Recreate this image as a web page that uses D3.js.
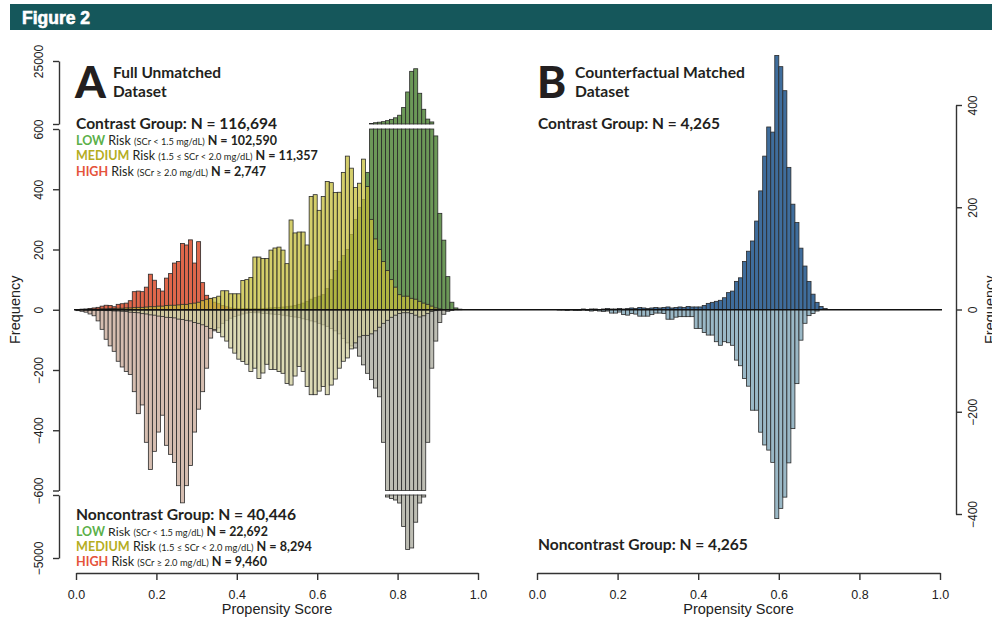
<!DOCTYPE html>
<html>
<head>
<meta charset="utf-8">
<script src="https://cdn.jsdelivr.net/npm/d3@7"></script>
<style>
  body { margin: 0; background: #fff; }
  svg { display: block; font-family: "Liberation Sans", Arial, Helvetica, sans-serif; }
  .lab { font-family: Lato, "Open Sans", sans-serif; fill: #231f20; }
</style>
</head>
<body>
<svg id="chart" width="992" height="621"></svg>
<script>
// ---------- data: frequencies per propensity-score bin of width 0.01 (bins 0.00-0.01 ... 0.99-1.00) ----------
const contrastLow = [
  1,2,2,3,2,3,2,2,3,2,  2,2,3,2,2,3,2,2,3,3,  3,2,3,3,2,3,3,2,3,3,  3,3,2,3,3,3,3,4,3,4,
  3,4,4,3,4,3,4,5,6,7,  8,9,10,12,14,18,22,28,35,40,  45,50,70,100,130,160,180,200,250,300,
  340,366,456,800,1100,1300,1500,1900,2400,3000,  4000,7000,13000,21000,22000,12500,6300,2500,1400,577,
  320,231,110,25,6,2,0,0,0,0
];
const contrastMedium = [
  0,0,1,1,2,2,3,3,4,4,  5,5,6,6,7,8,8,9,10,10,  12,12,14,15,15,16,18,18,20,22,  25,30,35,38,40,45,63,63,53,53,
  53,97,100,107,175,175,170,170,198,205,  208,198,153,298,255,258,258,215,376,382,  330,376,426,422,389,390,456,510,470,406,
  420,500,409,300,235,200,160,130,100,75,  50,45,45,38,35,28,22,18,12,6,
  3,1,0,0,0,0,0,0,0,0
];
const contrastHigh = [
  0,1,2,4,6,8,12,15,14,10,  18,20,22,30,60,62,60,75,118,98,  70,62,105,120,155,160,220,215,232,155,  226,90,48,37,25,20,14,10,6,4,
  2,1,1,0,0,0,0,0,0,0,  0,0,0,0,0,0,0,0,0,0,  0,0,0,0,0,0,0,0,0,0,
  0,0,0,0,0,0,0,0,0,0,  0,0,0,0,0,0,0,0,0,0,  0,0,0,0,0,0,0,0,0,0
];
const noncontrastLow = [
  2,3,4,4,5,4,4,3,3,3,  3,2,3,3,2,3,3,2,3,3,  3,3,4,3,4,4,3,4,4,5,  5,4,5,5,6,5,6,6,7,7,
  8,8,9,9,10,10,12,12,14,15,  16,18,20,22,24,26,30,33,37,40,  45,50,55,62,70,80,95,110,120,127,
  154,183,211,232,260,289,440,740,850,950,  1160,2800,4400,4300,2500,1160,740,440,194,104,
  42,15,5,2,0,0,0,0,0,0
];
const noncontrastMedium = [
  0,0,1,1,1,2,2,3,3,4,  4,5,6,8,9,10,13,14,17,18,  21,22,25,26,27,31,32,35,37,42,  45,50,55,62,66,75,90,104,127,144,
  164,172,181,205,194,228,210,181,198,198,  205,211,245,250,220,188,205,255,282,282,  270,255,282,250,230,194,171,160,130,110,
  90,85,85,80,70,58,45,35,25,18,  12,10,10,12,18,24,20,12,6,3,
  1,0,0,0,0,0,0,0,0,0
];
const noncontrastHigh = [
  3,5,8,14,20,37,65,98,120,138,  171,190,205,215,272,345,316,440,530,470,  406,350,450,480,507,584,641,584,517,406,
  330,272,194,94,70,60,45,35,28,22,  18,14,11,9,7,5,4,3,2,2,  1,0,0,0,0,0,0,0,0,0,
  0,0,0,0,0,0,0,0,0,0,  0,0,0,0,0,0,0,0,0,0,  0,0,0,0,0,0,0,0,0,0,  0,0,0,0,0,0,0,0,0,0
];
const matchedContrast = [
  0,0,0,0,0,0,0,0,0,0,  0,1,0,1,1,0,1,2,1,1,  2,1,2,3,2,4,3,2,3,4,  3,4,5,3,4,5,4,6,5,5,
  5,8,12,14,16,18,23,33,36,55,  62,94,114,134,173,232,300,357,347,497,  475,428,278,206,170,120,85,55,30,14,
  6,2,0,0,0,0,0,0,0,0,  0,0,0,0,0,0,0,0,0,0,  0,0,0,0,0,0,0,0,0,0
];
const matchedNoncontrast = [
  0,0,0,0,0,1,1,2,1,2,  2,1,2,3,2,3,4,3,7,7,  5,10,11,8,9,13,13,13,10,7,  7,8,19,19,15,14,14,14,14,37,
  37,45,50,50,63,70,63,65,70,99,  110,135,150,197,197,240,265,275,299,409,  389,367,300,233,145,60,27,12,8,3,
  0,0,0,0,0,0,0,0,0,0,  0,0,0,0,0,0,0,0,0,0,  0,0,0,0,0,0,0,0,0,0
];

// ---------- labels ----------
const xTickValues = [0, 0.2, 0.4, 0.6, 0.8, 1.0];
const yTicksMiddleA = [600, 400, 200, 0, -200, -400, -600];
const yTicksTopA = [600, 25000];
const yTicksBottomA = [-600, -5000];
const yTicksB = [400, 200, 0, -200, -400];
const riskLevels = ["LOW", "MEDIUM", "HIGH"];
const riskColors = ["#5bb04a", "#b5ad1f", "#e5533b"];
const riskRanges = ["(SCr < 1.5 mg/dL)", "(1.5 \u2264 SCr < 2.0 mg/dL)", "(SCr \u2265 2.0 mg/dL)"];
const contrastN = [102590, 11357, 2747];
const noncontrastN = [22692, 8294, 9460];
const groupTotalsA = [116694, 40446];
const groupTotalsB = [4265, 4265];

const fmt = d3.format(",");
const svg = d3.select("#chart");
svg.append("rect").attr("width", 992).attr("height", 621).attr("fill", "#fff");

// ---------- header band ----------
svg.append("rect").attr("x", 10).attr("y", 4).attr("width", 982).attr("height", 26).attr("fill", "#15575b");
svg.append("text").attr("x", 22).attr("y", 23.5).text("Figure 2")
  .attr("fill", "#fff").attr("stroke", "#fff").attr("stroke-width", 0.6)
  .attr("font-family", "\"Liberation Sans Narrow\", \"Arial Narrow\", sans-serif")
  .attr("font-weight", 700).attr("font-size", 17.5);

// ---------- scales ----------
const xA = d3.scaleLinear().domain([0, 1]).range([76, 478]);
const xB = d3.scaleLinear().domain([0, 1]).range([537, 940]);
// Panel A uses a broken frequency axis: a compressed top band, the main band, and a compressed bottom band
const yMid = d3.scaleLinear().domain([-600, 600]).range([490.5, 129]);
const yTop = d3.scaleLinear().domain([600, 25000]).range([124, 61]);
const yBot = d3.scaleLinear().domain([-600, -5000]).range([495, 558]);
const yB = d3.scaleLinear().domain([-400, 400]).range([514, 105]);
const breakAt = 700; // bars taller than this are split across the axis gap

function segmentsA(v) {
  if (v === 0) return [];
  if (v > breakAt) return [[yMid(0), yMid(600)], [yTop(600), yTop(v)]];
  if (v < -breakAt) return [[yMid(0), yMid(-600)], [yBot(-600), yBot(v)]];
  return [[yMid(0), yMid(v)]];
}

function drawSeriesA(values, sign, fill, opacity) {
  const rects = [];
  values.forEach((v, i) => {
    segmentsA(sign * v).forEach(s => rects.push({ i, y0: Math.min(s[0], s[1]), y1: Math.max(s[0], s[1]) }));
  });
  svg.append("g").selectAll("rect").data(rects).join("rect")
    .attr("x", d => xA(d.i / 100))
    .attr("width", d => xA((d.i + 1) / 100) - xA(d.i / 100))
    .attr("y", d => d.y0)
    .attr("height", d => d.y1 - d.y0)
    .attr("fill", fill).attr("fill-opacity", opacity)
    .attr("stroke", "#2a2a2a").attr("stroke-width", 0.8);
}

function drawSeriesB(values, sign, fill) {
  const data = values.map((v, i) => ({ i, v: sign * v })).filter(d => d.v !== 0);
  svg.append("g").selectAll("rect").data(data).join("rect")
    .attr("x", d => xB(d.i / 100))
    .attr("width", d => xB((d.i + 1) / 100) - xB(d.i / 100))
    .attr("y", d => Math.min(yB(0), yB(d.v)))
    .attr("height", d => Math.abs(yB(d.v) - yB(0)))
    .attr("fill", fill)
    .attr("stroke", "#2a2a2a").attr("stroke-width", 0.8);
}

// ---------- panel A histograms ----------
drawSeriesA(noncontrastLow, -1, "#bdbdb3", 1);
drawSeriesA(noncontrastHigh, -1, "#d5bdb0", 1);
drawSeriesA(noncontrastMedium, -1, "#cfcc98", 0.72);
drawSeriesA(contrastLow, 1, "#608f4a", 0.92);
drawSeriesA(contrastHigh, 1, "#dc5a3c", 0.92);
drawSeriesA(contrastMedium, 1, "#c6bd3a", 0.75);

// ---------- panel B histograms ----------
drawSeriesB(matchedNoncontrast, -1, "#9ab8c6");
drawSeriesB(matchedContrast, 1, "#3f6d9c");

// zero line across both panels
svg.append("line").attr("x1", 74).attr("x2", 942).attr("y1", yMid(0)).attr("y2", yMid(0))
  .attr("stroke", "#111").attr("stroke-width", 1.6);

// ---------- axes ----------
function styleAxis(g) {
  g.selectAll(".domain").attr("stroke", "#333").attr("stroke-width", 1.4);
  g.selectAll(".tick line").attr("stroke", "#333").attr("stroke-width", 1.4);
  g.selectAll(".tick text").attr("fill", "#222").attr("font-size", 12)
    .attr("font-family", "\"Liberation Sans\", Arial, sans-serif");
}
function rotateLeft(g, off) {
  g.selectAll(".tick text").attr("transform", "rotate(-90)")
    .attr("x", 0).attr("y", off).attr("dy", 0).attr("text-anchor", "middle");
}
const yfmt = d3.format("d");

const axTop = svg.append("g").attr("transform", "translate(59,0)")
  .call(d3.axisLeft(yTop).tickValues(yTicksTopA).tickSize(6).tickSizeOuter(0)
    .tickFormat(d => d === 25000 ? yfmt(d) : ""));
const axMid = svg.append("g").attr("transform", "translate(59,0)")
  .call(d3.axisLeft(yMid).tickValues(yTicksMiddleA).tickSize(6).tickSizeOuter(0).tickFormat(yfmt));
const axBot = svg.append("g").attr("transform", "translate(59,0)")
  .call(d3.axisLeft(yBot).tickValues(yTicksBottomA).tickSize(6).tickSizeOuter(0)
    .tickFormat(d => d === -5000 ? yfmt(d) : ""));
[axTop, axMid, axBot].forEach(g => { styleAxis(g); rotateLeft(g, -16); });

const axRB = svg.append("g").attr("transform", "translate(956,0)")
  .call(d3.axisRight(yB).tickValues(yTicksB).tickSize(6).tickSizeOuter(0).tickFormat(yfmt));
styleAxis(axRB);
rotateLeft(axRB, 21);

const axXA = svg.append("g").attr("transform", "translate(0,573)")
  .call(d3.axisBottom(xA).tickValues(xTickValues).tickSize(7).tickSizeOuter(0).tickFormat(d3.format(".1f")));
const axXB = svg.append("g").attr("transform", "translate(0,573)")
  .call(d3.axisBottom(xB).tickValues(xTickValues).tickSize(7).tickSizeOuter(0).tickFormat(d3.format(".1f")));
[axXA, axXB].forEach(g => {
  styleAxis(g);
  g.selectAll(".tick text").attr("y", 17).attr("font-size", 12.5);
});

// axis titles
svg.append("text").attr("x", xA(0.5)).attr("y", 614).attr("text-anchor", "middle")
  .attr("font-size", 14.5).attr("fill", "#222").text("Propensity Score");
svg.append("text").attr("x", xB(0.5)).attr("y", 614).attr("text-anchor", "middle")
  .attr("font-size", 14.5).attr("fill", "#222").text("Propensity Score");
svg.append("text").attr("transform", `translate(20,${yMid(0)}) rotate(-90)`).attr("text-anchor", "middle")
  .attr("font-size", 14.5).attr("fill", "#222").text("Frequency");
svg.append("text").attr("transform", `translate(995,${yMid(0)}) rotate(-90)`).attr("text-anchor", "middle")
  .attr("font-size", 14.5).attr("fill", "#222").text("Frequency");

// ---------- panel annotations ----------
// scale a text block's font sizes so that it spans the given width
function fitWidth(t, width) {
  const len = t.node().getComputedTextLength();
  if (!len) return;
  const k = width / len;
  const nodes = t.selectAll("tspan").nodes();
  (nodes.length ? nodes : [t.node()]).forEach(n => {
    const fs = parseFloat(n.getAttribute("font-size"));
    n.setAttribute("font-size", (fs * k).toFixed(2));
  });
}

function panelTitle(x, letter, line1, line2, w1) {
  svg.append("text").attr("class", "lab").attr("x", x).attr("y", 98)
    .attr("font-size", 44).attr("font-weight", 900).text(letter);
  const t1 = svg.append("text").attr("class", "lab").attr("x", x + 38).attr("y", 78)
    .attr("font-size", 15.6).attr("font-weight", 700).text(line1);
  fitWidth(t1, w1);
  svg.append("text").attr("class", "lab").attr("x", x + 38).attr("y", 97)
    .attr("font-size", t1.attr("font-size")).attr("font-weight", 700).text(line2);
}
panelTitle(75, "A", "Full Unmatched", "Dataset", 108);
panelTitle(537, "B", "Counterfactual Matched", "Dataset", 170);

function groupLine(x, y, label, n, w) {
  const t = svg.append("text").attr("class", "lab").attr("x", x).attr("y", y)
    .attr("font-size", 15.6).attr("font-weight", 700)
    .text(`${label} Group: N = ${fmt(n)}`);
  fitWidth(t, w);
}
function riskLine(x, y, k, n, w) {
  const t = svg.append("text").attr("class", "lab").attr("x", x).attr("y", y);
  t.append("tspan").attr("fill", riskColors[k]).attr("font-weight", 700).attr("font-size", 12.8).text(riskLevels[k]);
  t.append("tspan").attr("font-size", 12.8).attr("font-weight", 400).text(" Risk ");
  t.append("tspan").attr("font-size", 9.5).text(riskRanges[k]);
  t.append("tspan").attr("font-size", 12.8).attr("font-weight", 700).text(` N = ${fmt(n)}`);
  fitWidth(t, w);
}
const contrastLineWidths = [201, 242, 190];
const noncontrastLineWidths = [192, 236, 191];
groupLine(76, 129, "Contrast", groupTotalsA[0], 201);
contrastN.forEach((n, k) => riskLine(76, 144.5 + k * 15.5, k, n, contrastLineWidths[k]));
groupLine(76, 520, "Noncontrast", groupTotalsA[1], 220);
noncontrastN.forEach((n, k) => riskLine(76, 535.5 + k * 15.3, k, n, noncontrastLineWidths[k]));

groupLine(538, 129, "Contrast", groupTotalsB[0], 182);
groupLine(538, 550, "Noncontrast", groupTotalsB[1], 210);
</script>
</body>
</html>
